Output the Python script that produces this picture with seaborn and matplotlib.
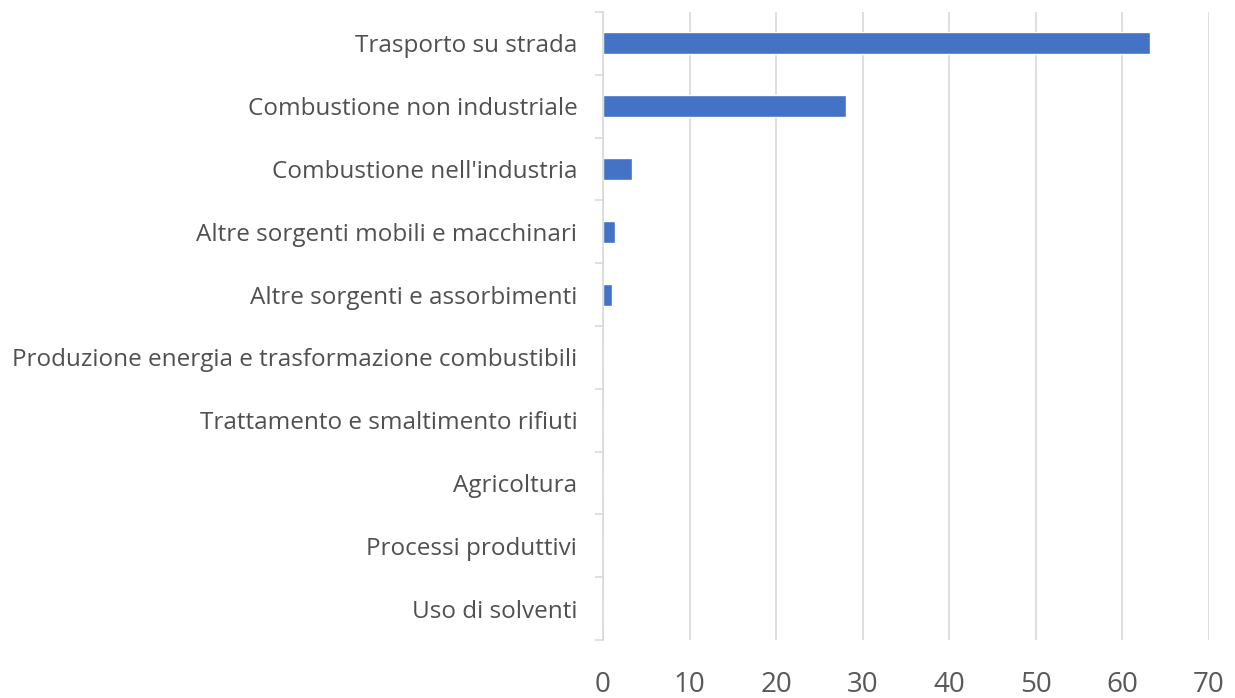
import matplotlib
matplotlib.use("Agg")
import matplotlib.pyplot as plt
from matplotlib.ticker import FixedLocator
import seaborn as sns
import pandas as pd
import numpy as np

categories = [
    "Trasporto su strada",
    "Combustione non industriale",
    "Combustione nell'industria",
    "Altre sorgenti mobili e macchinari",
    "Altre sorgenti e assorbimenti",
    "Produzione energia e trasformazione combustibili",
    "Trattamento e smaltimento rifiuti",
    "Agricoltura",
    "Processi produttivi",
    "Uso di solventi",
]
values = [63.2, 28.1, 3.4, 1.4, 1.0, 0.0, 0.0, 0.0, 0.0, 0.0]
x_ticks = [0, 10, 20, 30, 40, 50, 60, 70]

df = pd.DataFrame({"settore": categories, "valore": values})

sns.set_theme(style="white")
plt.rcParams["font.family"] = ["Open Sans", "DejaVu Sans"]

fig = plt.figure(figsize=(12.35, 6.98), dpi=100)
ax = fig.add_axes([603 / 1235, 1 - 640 / 698, (1209 - 603) / 1235, (640 - 12) / 698])

sns.barplot(data=df, x="valore", y="settore", orient="h", color="#4472C4",
            saturation=1, width=0.35, ax=ax)

ax.set_xlim(0, 70)
ax.set_ylim(len(categories) - 0.5, -0.5)
ax.set_xticks(x_ticks)
ax.set_xticklabels([str(t) for t in x_ticks])
ax.set_xlabel("")
ax.set_ylabel("")

# vertical grid lines
ax.grid(axis="x", color="#d9d9d9", linewidth=1.2)
ax.set_axisbelow(True)

for side in ["top", "right", "bottom"]:
    ax.spines[side].set_visible(False)
ax.spines["left"].set_color("#d9d9d9")
ax.spines["left"].set_linewidth(1.2)

# category separators on the value axis
ax.yaxis.set_minor_locator(FixedLocator(np.arange(-0.5, len(categories), 1.0)))
ax.tick_params(axis="y", which="minor", length=6, color="#d9d9d9", width=1.2, left=True)
ax.tick_params(axis="y", which="major", length=0, pad=18.5, labelsize=17.5, labelcolor="#505050")
ax.tick_params(axis="x", which="major", length=0, pad=22.5, labelsize=20, labelcolor="#595959")

fig.savefig("out.png", dpi=100, facecolor="white")
